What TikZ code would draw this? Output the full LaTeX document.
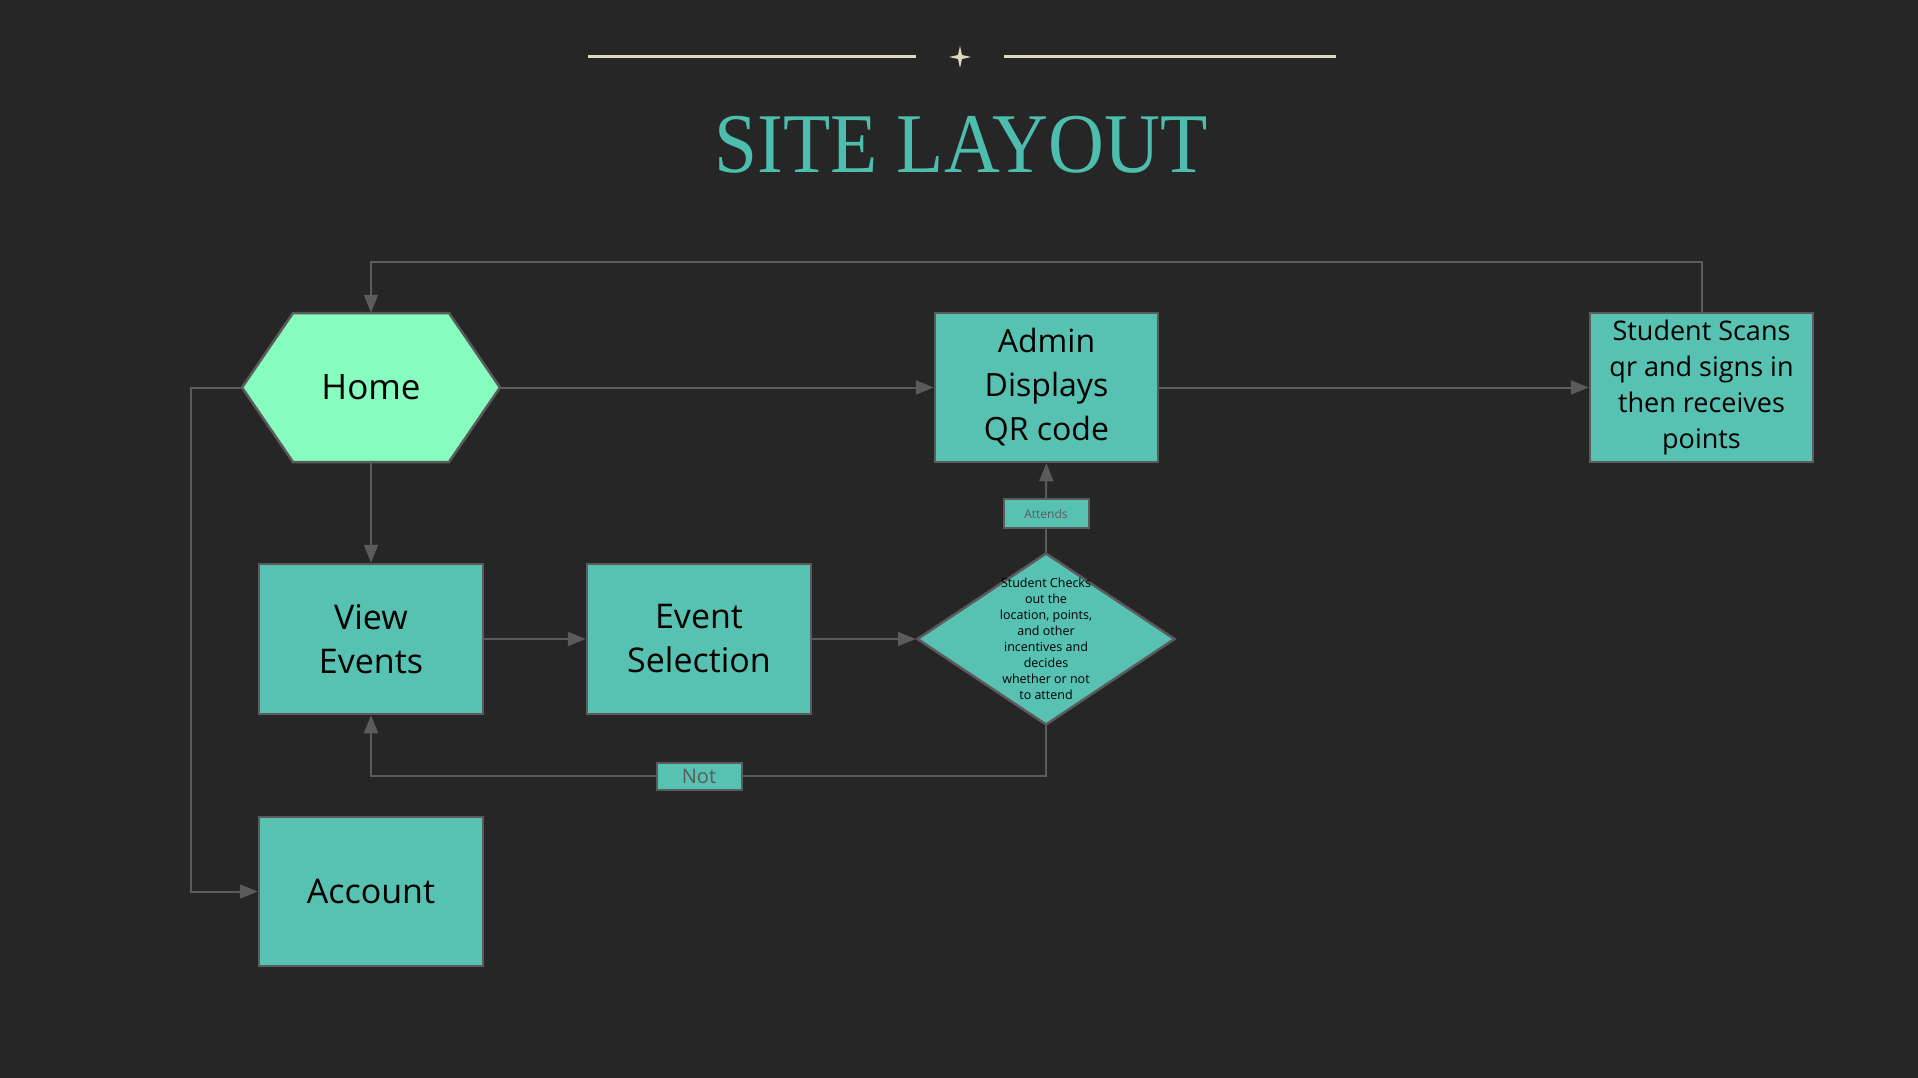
\documentclass[tikz,border=0pt]{standalone}
\usepackage{fontspec}
\newfontfamily\boxfont{Open Sans}
\newfontfamily\titlefont{Liberation Serif}[FakeStretch=0.91]
\usetikzlibrary{shapes.geometric,arrows.meta}
\definecolor{bgdark}{RGB}{38,38,38}
\definecolor{tealfill}{RGB}{87,193,178}
\definecolor{homefill}{RGB}{134,252,190}
\definecolor{edgegray}{RGB}{91,91,91}
\definecolor{titleteal}{RGB}{77,189,174}
\definecolor{cream}{RGB}{222,216,188}
\tikzset{
  box/.style={rectangle,draw=edgegray,line width=2.5pt,fill=tealfill,minimum width=223pt,minimum height=149pt,inner sep=0pt,align=center,font=\boxfont\fontsize{34}{44}\selectfont},
  decision/.style={diamond,draw=edgegray,line width=2.5pt,fill=tealfill,minimum width=258pt,minimum height=172pt,inner sep=0pt},
  tag/.style={rectangle,draw=edgegray,line width=2pt,fill=tealfill,text=edgegray,inner sep=0pt,minimum width=85pt},
  link/.style={draw=edgegray,line width=2pt,-{Triangle[length=18pt,width=14pt]}},
  plain/.style={draw=edgegray,line width=2pt}
}
\begin{document}
\begin{tikzpicture}[x=1pt,y=-1pt]
\useasboundingbox (0,0) rectangle (1918,1078);
\fill[bgdark] (0,0) rectangle (1918,1078);
\draw[cream,line width=3pt] (588,57) -- (916,57);
\draw[cream,line width=3pt] (1004,57) -- (1336,57);
\fill[cream] (960,46) -- (962,55) -- (971,57) -- (962,59) -- (960,68) -- (958,59) -- (949,57) -- (958,55) -- cycle;
\node (title) at (961,173) [anchor=base,text=titleteal,font=\titlefont\fontsize{85}{90}\selectfont] {SITE LAYOUT};
\filldraw[fill=homefill,draw=edgegray,line width=2.5pt] (242,387.5) -- (293,313) -- (449,313) -- (500,387.5) -- (449,462) -- (293,462) -- cycle;
\node (home) at (371,387.5) [minimum width=258pt,minimum height=149pt,inner sep=0pt,font=\boxfont\fontsize{35}{44}\selectfont] {Home};
\node (admin) at (1046.5,387.5) [box,font=\boxfont\fontsize{32}{44}\selectfont] {Admin\\Displays\\QR code};
\node (scan) at (1701.5,387.5) [box,font=\boxfont\fontsize{27}{36}\selectfont] {Student Scans\\qr and signs in\\then receives\\points};
\node (view) at (371,639) [box,minimum width=224pt,minimum height=150pt] {View\\Events};
\node (evsel) at (699,639) [box,minimum width=224pt,minimum height=150pt] {Event\\Selection};
\node (check) at (1046,639) [decision] {};
\node (checktext) at (check.center) [align=center,font=\boxfont\fontsize{12.5}{16}\selectfont] {Student Checks\\out the\\location, points,\\and other\\incentives and\\decides\\whether or not\\to attend};
\node (acct) at (371,891.5) [box,minimum width=224pt] {Account};
\node (atttag) at (1046,513.5) [tag,minimum height=29pt,font=\boxfont\fontsize{12}{14}\selectfont] {Attends};
\node (notag) at (699,776) [tag,minimum height=27pt,font=\boxfont\fontsize{20}{24}\selectfont] {Not};
\draw[link] (scan.north) -- ++(0,-50) -| (home.north);
\draw[link] (home.east) -- (admin.west);
\draw[link] (admin.east) -- (scan.west);
\draw[link] (home.south) -- (view.north);
\draw[link] (view.east) -- (evsel.west);
\draw[link] (evsel.east) -- (check.west);
\draw[plain] (check.north) -- (atttag.south);
\draw[link] (atttag.north) -- (admin.south);
\draw[plain] (check.south) |- (notag.east);
\draw[link] (notag.west) -| (view.south);
\draw[link] (home.west) -- ++(-51,0) |- (acct.west);
\end{tikzpicture}
\end{document}
